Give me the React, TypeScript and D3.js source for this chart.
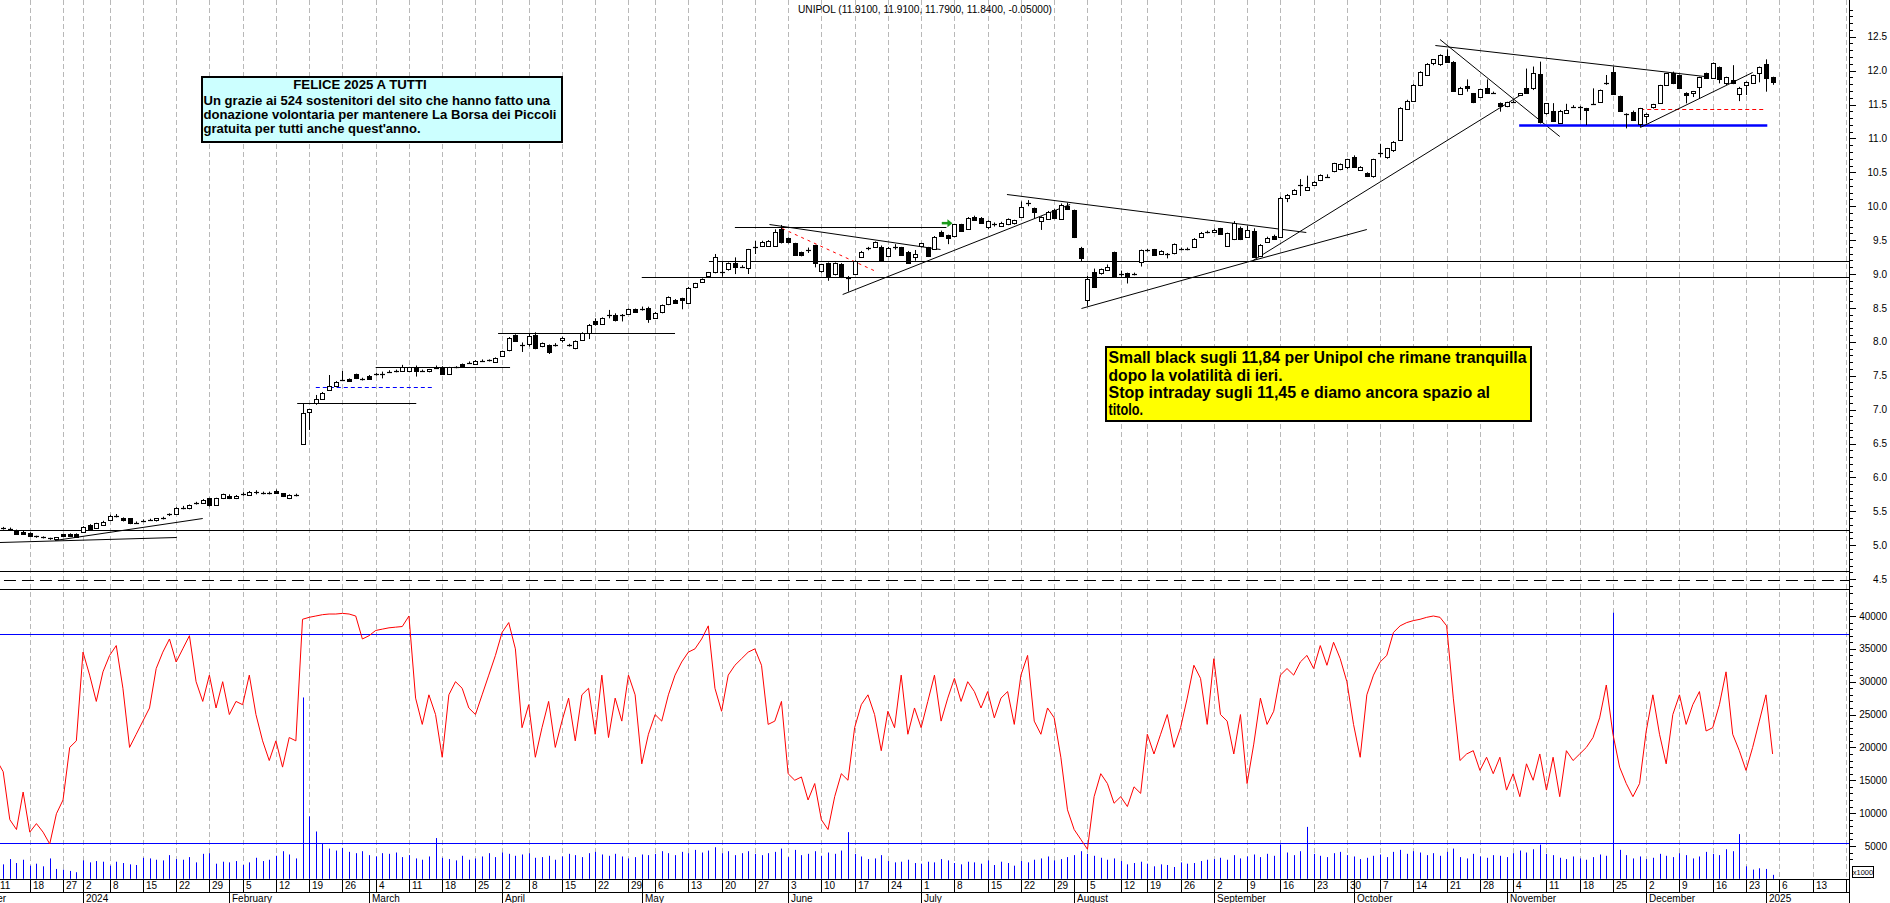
import React from 'react';
import * as d3 from 'd3';

const W = 1890;
const H = 903;
const PLOT_RIGHT = 1849;
const FONT = 'Arial, "Liberation Sans", sans-serif';

const TITLE = 'UNIPOL (11.9100, 11.9100, 11.7900, 11.8400, -0.05000)';
const HOLIDAYS = ['2023-12-25', '2023-12-26', '2024-01-01', '2024-03-29', '2024-04-01', '2024-05-01', '2024-08-15', '2024-12-24', '2024-12-25', '2024-12-26', '2024-12-31', '2025-01-01'];
const MONTH_NAMES = ['January', 'February', 'March', 'April', 'May', 'June', 'July', 'August', 'September', 'October', 'November', 'December'];
const FIRST_INDEX = -13; // 2023-12-11 ; index 0 = 2024-01-02

const opens = [
  5.26, 5.25, 5.24, 5.215, 5.2, 5.176, 5.13, 5.12, 5.1, 5.087, 5.161, 5.166, 5.166,
  5.2, 5.298, 5.249, 5.298, 5.372, 5.43, 5.397, 5.397, 5.333, 5.36,
  5.372, 5.362, 5.397, 5.456, 5.461, 5.554, 5.544, 5.618, 5.618, 5.692,
  5.594, 5.692, 5.726, 5.692, 5.75, 5.741, 5.78, 5.766, 5.766, 5.805,
  5.766, 5.692, 5.741, 6.493, 6.955, 7.093, 7.167, 7.29, 7.349, 7.437,
  7.446, 7.521, 7.452, 7.501, 7.521, 7.526, 7.56, 7.57, 7.57, 7.57,
  7.634, 7.575, 7.565, 7.614, 7.634, 7.526, 7.624, 7.673, 7.693, 7.683,
  7.723, 7.733, 7.713, 7.796, 7.879, 8.1, 7.96, 7.968, 8.1, 7.928,
  7.953, 7.96, 8.017, 7.95, 7.903, 8.037, 8.125, 8.307, 8.262, 8.395,
  8.395, 8.395, 8.405, 8.479, 8.479, 8.503, 8.356, 8.435, 8.548, 8.617,
  8.641, 8.577, 8.804, 8.877, 8.971, 9.035, 9.03, 9.069, 9.157, 9.11,
  9.084, 9.4, 9.418, 9.413, 9.418, 9.664, 9.526, 9.452, 9.32, 9.35,
  9.428, 9.035, 9.157, 8.995, 9.147, 8.94, 9.01, 9.255, 9.37, 9.403,
  9.403, 9.266, 9.4, 9.393, 9.33, 9.245, 9.403, 9.393, 9.378, 9.625,
  9.575, 9.551, 9.733, 9.674, 9.846, 9.831, 9.689, 9.733, 9.708, 9.738,
  9.747, 9.846, 10.043, 9.969, 9.787, 9.821, 9.944, 9.806, 10.008, 9.944,
  9.379, 8.617, 9.035, 9.01, 9.059, 9.32, 8.995, 9.01, 9.0, 9.182,
  9.354, 9.364, 9.295, 9.29, 9.305, 9.369, 9.369, 9.403, 9.541, 9.625,
  9.62, 9.674, 9.413, 9.511, 9.674, 9.551, 9.635, 9.271, 9.477, 9.566,
  9.551, 10.116, 10.18, 10.3, 10.249, 10.313, 10.386, 10.436, 10.51, 10.544,
  10.569, 10.731, 10.534, 10.485, 10.436, 10.78, 10.721, 10.829, 10.986, 11.444,
  11.557, 11.788, 11.935, 12.107, 12.092, 12.215, 12.131, 11.655, 11.772, 11.664,
  11.615, 11.748, 11.674, 11.527, 11.478, 11.541, 11.64, 11.748, 11.738, 11.95,
  11.369, 11.409, 11.237, 11.379, 11.468, 11.458, 11.443, 11.507, 11.542, 11.8,
  11.974, 11.625, 11.36, 11.394, 11.212, 11.335, 11.453, 11.517, 11.787, 11.959,
  11.935, 11.674, 11.674, 11.763, 11.959, 11.9, 12.048, 11.812, 11.861, 11.654,
  11.787, 11.822, 11.959, 12.1, 11.91,
];

const highs = [
  5.28, 5.27, 5.26, 5.23, 5.21, 5.19, 5.14, 5.13, 5.11, 5.12, 5.17, 5.175, 5.175,
  5.28, 5.31, 5.33, 5.36, 5.45, 5.46, 5.41, 5.4, 5.35, 5.38,
  5.39, 5.4, 5.42, 5.47, 5.56, 5.58, 5.6, 5.64, 5.68, 5.7,
  5.7, 5.76, 5.75, 5.74, 5.78, 5.8, 5.81, 5.79, 5.79, 5.82,
  5.77, 5.75, 5.76, 7.093, 7.01, 7.216, 7.26, 7.51, 7.42, 7.57,
  7.46, 7.53, 7.47, 7.51, 7.54, 7.56, 7.58, 7.59, 7.66, 7.63,
  7.65, 7.59, 7.6, 7.65, 7.64, 7.63, 7.64, 7.68, 7.71, 7.73,
  7.74, 7.74, 7.77, 7.87, 8.07, 8.11, 7.99, 8.125, 8.14, 7.99,
  7.96, 7.98, 8.075, 7.97, 8.02, 8.14, 8.262, 8.346, 8.36, 8.47,
  8.42, 8.41, 8.49, 8.49, 8.52, 8.518, 8.44, 8.55, 8.67, 8.63,
  8.65, 8.81, 8.87, 8.935, 9.03, 9.295, 9.18, 9.17, 9.245, 9.13,
  9.37, 9.487, 9.49, 9.5, 9.659, 9.723, 9.54, 9.46, 9.33, 9.39,
  9.43, 9.15, 9.17, 9.17, 9.16, 8.97, 9.2, 9.34, 9.4, 9.48,
  9.42, 9.4, 9.44, 9.4, 9.34, 9.354, 9.46, 9.4, 9.56, 9.64,
  9.58, 9.74, 9.74, 9.84, 9.86, 9.84, 9.79, 9.76, 9.77, 9.82,
  9.8, 10.07, 10.09, 9.98, 9.85, 9.93, 9.96, 10.04, 10.05, 9.95,
  9.4, 8.97, 9.08, 9.08, 9.14, 9.33, 9.05, 9.02, 9.02, 9.36,
  9.37, 9.37, 9.35, 9.31, 9.45, 9.39, 9.39, 9.53, 9.62, 9.64,
  9.67, 9.68, 9.61, 9.78, 9.7, 9.71, 9.674, 9.44, 9.55, 9.58,
  10.14, 10.18, 10.25, 10.4, 10.45, 10.37, 10.47, 10.47, 10.64, 10.63,
  10.7, 10.75, 10.59, 10.5, 10.7, 10.92, 10.86, 10.96, 11.46, 11.57,
  11.8, 11.99, 12.11, 12.17, 12.24, 12.313, 12.14, 11.76, 11.87, 11.67,
  11.73, 11.87, 11.69, 11.53, 11.54, 11.56, 11.67, 12.03, 12.06, 12.132,
  11.52, 11.52, 11.42, 11.51, 11.49, 11.48, 11.45, 11.738, 11.72, 11.935,
  12.058, 11.63, 11.37, 11.41, 11.45, 11.37, 11.51, 11.79, 11.96, 11.985,
  11.94, 11.68, 11.7, 11.91, 11.97, 12.12, 12.06, 11.91, 12.08, 11.76,
  11.84, 11.94, 12.06, 12.166, 11.91,
];

const lows = [
  5.24, 5.23, 5.22, 5.17, 5.16, 5.13, 5.11, 5.1, 5.08, 5.08, 5.13, 5.13, 5.12,
  5.19, 5.22, 5.24, 5.29, 5.36, 5.41, 5.35, 5.31, 5.32, 5.34,
  5.36, 5.35, 5.38, 5.43, 5.45, 5.53, 5.53, 5.6, 5.61, 5.57,
  5.58, 5.68, 5.68, 5.68, 5.73, 5.73, 5.75, 5.75, 5.75, 5.77,
  5.71, 5.68, 5.72, 6.49, 6.7, 7.07, 7.15, 7.28, 7.33, 7.42,
  7.41, 7.45, 7.43, 7.45, 7.5, 7.46, 7.54, 7.55, 7.56, 7.56,
  7.487, 7.56, 7.55, 7.6, 7.52, 7.51, 7.61, 7.64, 7.68, 7.67,
  7.71, 7.71, 7.7, 7.79, 7.86, 8.01, 7.85, 7.93, 7.89, 7.92,
  7.82, 7.93, 7.99, 7.93, 7.89, 8.02, 8.04, 8.238, 8.25, 8.346,
  8.3, 8.3, 8.4, 8.43, 8.46, 8.28, 8.34, 8.42, 8.54, 8.56,
  8.48, 8.57, 8.79, 8.87, 8.96, 9.01, 8.96, 9.05, 8.999, 9.09,
  9.0, 9.295, 9.4, 9.4, 9.4, 9.45, 9.45, 9.27, 9.26, 9.31,
  9.098, 9.02, 8.9, 8.98, 8.94, 8.74, 8.99, 9.24, 9.35, 9.39,
  9.2, 9.25, 9.36, 9.27, 9.16, 9.196, 9.39, 9.25, 9.37, 9.56,
  9.44, 9.54, 9.62, 9.66, 9.79, 9.75, 9.66, 9.7, 9.7, 9.72,
  9.73, 9.83, 10.0, 9.82, 9.65, 9.8, 9.81, 9.8, 9.96, 9.53,
  9.19, 8.53, 8.8, 8.99, 9.05, 8.96, 8.96, 8.86, 8.98, 9.11,
  9.33, 9.27, 9.28, 9.23, 9.29, 9.35, 9.35, 9.39, 9.53, 9.6,
  9.61, 9.58, 9.4, 9.5, 9.5, 9.54, 9.25, 9.25, 9.46, 9.52,
  9.54, 10.06, 10.17, 10.15, 10.24, 10.3, 10.37, 10.42, 10.5, 10.53,
  10.55, 10.57, 10.52, 10.43, 10.42, 10.72, 10.7, 10.8, 10.97, 11.43,
  11.54, 11.77, 11.92, 12.08, 12.07, 12.12, 11.7, 11.64, 11.69, 11.52,
  11.6, 11.67, 11.66, 11.394, 11.46, 11.52, 11.63, 11.67, 11.713, 11.22,
  11.35, 11.25, 11.23, 11.37, 11.45, 11.27, 11.197, 11.5, 11.53, 11.79,
  11.65, 11.4, 11.148, 11.27, 11.17, 11.22, 11.44, 11.51, 11.78, 11.8,
  11.73, 11.517, 11.61, 11.59, 11.88, 11.89, 11.812, 11.787, 11.8, 11.55,
  11.64, 11.81, 11.827, 11.689, 11.79,
];

const closes = [
  5.25, 5.25, 5.235, 5.176, 5.166, 5.137, 5.126, 5.116, 5.097, 5.116, 5.137, 5.137, 5.126,
  5.274, 5.235, 5.323, 5.348, 5.436, 5.431, 5.362, 5.323, 5.333, 5.362,
  5.372, 5.397, 5.397, 5.436, 5.554, 5.554, 5.594, 5.618, 5.667, 5.584,
  5.692, 5.751, 5.692, 5.726, 5.751, 5.79, 5.78, 5.766, 5.766, 5.78,
  5.716, 5.741, 5.741, 6.955, 7.004, 7.157, 7.25, 7.349, 7.412, 7.437,
  7.422, 7.457, 7.452, 7.462, 7.521, 7.526, 7.56, 7.57, 7.624, 7.624,
  7.575, 7.575, 7.594, 7.614, 7.535, 7.624, 7.624, 7.644, 7.693, 7.723,
  7.723, 7.713, 7.767, 7.864, 8.051, 8.017, 7.953, 8.091, 7.913, 7.978,
  7.854, 7.953, 8.051, 7.96, 8.012, 8.135, 8.248, 8.262, 8.346, 8.395,
  8.322, 8.395, 8.479, 8.435, 8.479, 8.346, 8.43, 8.543, 8.656, 8.567,
  8.607, 8.799, 8.863, 8.926, 9.025, 9.256, 9.025, 9.157, 9.099, 9.108,
  9.364, 9.403, 9.477, 9.487, 9.625, 9.477, 9.462, 9.28, 9.27, 9.354,
  9.157, 9.142, 8.961, 9.157, 8.951, 8.936, 9.197, 9.33, 9.378, 9.477,
  9.216, 9.389, 9.403, 9.28, 9.167, 9.29, 9.452, 9.266, 9.551, 9.566,
  9.536, 9.733, 9.625, 9.831, 9.797, 9.757, 9.782, 9.733, 9.747, 9.807,
  9.797, 9.993, 10.043, 9.905, 9.846, 9.92, 9.821, 10.018, 9.969, 9.541,
  9.231, 8.921, 8.813, 9.069, 9.099, 8.971, 8.995, 8.961, 9.0, 9.354,
  9.354, 9.281, 9.34, 9.29, 9.438, 9.369, 9.369, 9.516, 9.6, 9.625,
  9.649, 9.59, 9.6, 9.747, 9.511, 9.649, 9.256, 9.428, 9.536, 9.526,
  10.126, 10.165, 10.239, 10.313, 10.288, 10.362, 10.46, 10.436, 10.632, 10.618,
  10.69, 10.583, 10.583, 10.436, 10.692, 10.78, 10.854, 10.952, 11.454, 11.557,
  11.788, 11.984, 12.1, 12.166, 12.23, 12.131, 11.704, 11.748, 11.738, 11.532,
  11.728, 11.679, 11.674, 11.478, 11.532, 11.541, 11.664, 11.679, 11.959, 11.246,
  11.517, 11.256, 11.409, 11.419, 11.468, 11.458, 11.419, 11.507, 11.714, 11.82,
  11.655, 11.404, 11.345, 11.271, 11.443, 11.36, 11.503, 11.787, 11.959, 11.812,
  11.738, 11.64, 11.699, 11.91, 11.886, 12.117, 11.871, 11.9, 11.812, 11.748,
  11.836, 11.935, 12.048, 11.89, 11.84,
];

// volume in thousands of shares (axis shows x1000)
const volumes = [
  2600, 2200, 3000, 2400, 2900, 2000, 2300, 1900, 3100, 1500, 1400, 1200, 1000,
  2800, 2500, 2700, 2600, 2000, 2600, 2400, 2200, 2100, 3200,
  3100, 2900, 2800, 3600, 3000, 2900, 3300, 2500, 3800, 3900,
  2300, 2600, 2500, 2700, 2100, 2500, 3200, 2700, 2900, 3500,
  4200, 3700, 3100,
  27600, 9500, 7200, 5400, 4600, 4300, 4700, 4100, 3900, 4200,
  3600, 3400, 3900, 3800, 4000, 3300, 3600, 3100, 2900, 3400,
  6200, 3200, 3000, 2800, 3500, 2900, 3100, 3400, 3900, 3300,
  4000, 3800, 3500, 3700, 3900, 3200, 3300, 3500, 2900, 3400,
  3800, 3600, 3300, 3900, 4100, 3700, 3500, 3800, 3400, 3100,
  3300, 3700, 3600, 3800, 4200, 3900, 3600, 4100, 3900, 4400,
  4000, 4300, 4800, 3900, 4200, 3600, 3900,
  4200, 3800, 3600, 3900, 4100, 4600, 3300, 4400, 3600, 3800,
  4200, 3500, 4000, 3800, 4300, 7100, 3800, 3400, 3000, 3100,
  3600, 2700, 2500, 2600, 2900, 2400, 2300, 2600, 2500, 3000,
  2800, 2400, 2200, 2600, 2500, 2300, 2800, 2100, 2600, 2400,
  2000, 2700, 2500, 2900, 3100, 3400, 2800, 3000, 3300, 3600,
  4200, 3800, 3500, 3200, 2900, 3100, 2700, 2200, 2400, 2600,
  2300, 1900, 2200, 2100, 1800, 2500, 2300, 2400, 2700, 2900,
  3000, 3200, 2900, 3600, 3100, 3400, 3700, 3300, 3800, 3500,
  5200, 4000, 3600, 4200, 7900, 3800, 3500, 3300, 3900, 4100,
  3600, 3400, 3000, 3200, 3500, 3700, 3300, 4100, 4400, 3800,
  4200, 4000, 3600, 3900, 3500, 4100, 4600, 3300, 3100, 3800,
  3400, 3200, 3600, 3500, 3300, 3900, 4300, 4000, 4500, 5200,
  3800, 3600, 3200, 3000, 3400, 3100, 2900, 3300, 3700, 3500,
  40500, 4400, 3600, 3100, 3400, 3000, 3200, 3800, 3500, 3300,
  3900, 3600, 3100, 3400, 4100, 3800, 3600, 4500, 4200, 6800,
  1900, 1400, 1600, 1500, 600,
];

// red oscillator drawn on the lower panel scale
const oscillator = [
  18100, 16300, 9000, 7500, 13200, 7100, 8400, 7100, 5300, 9900, 12000, 20000, 21000,
  34500, 31000, 27000, 31500, 34000, 35500, 29000, 20000, 22000, 24000,
  26000, 32000, 34500, 36500, 33000, 35000, 37000, 30000, 27000, 31000,
  26000, 30000, 25000, 27000, 26500, 31000, 25000, 21000, 18000, 21000,
  17000, 21500, 21000, 39500, 39800, 40000, 40200, 40300, 40300, 40400,
  40300, 40000, 36500, 37000, 37800, 38000, 38200, 38300, 38400, 40000,
  27500, 23500, 28000, 25000, 18500, 28000, 30000, 29000, 26000, 25000,
  28000, 31000, 34000, 37500, 39000, 35000, 23000, 26500, 18500, 23000,
  27000, 20000, 24000, 27500, 21000, 28000, 29000, 22000, 31000, 21500,
  27500, 24000, 31000, 28000, 17500, 22000, 25000, 24000, 28000, 31000,
  33000, 34500, 35000, 36500, 38500, 29000, 25500, 31000, 32500, 33500,
  34500, 35000, 32500, 23500, 24000, 27000, 16000, 15000, 15500, 12000,
  14500, 9000, 7500, 12500, 16000, 15000, 23000, 26500, 28000, 25000,
  19500, 25500, 23000, 31000, 22000, 26000, 23000, 27000, 31000, 24000,
  27500, 30500, 27000, 30000, 28500, 26000, 28500, 24500, 27500, 28500,
  23500, 31000, 34000, 24000, 22000, 26000, 24500, 18500, 10500, 7500,
  6000, 4500, 12500, 16000, 14500, 11500, 12500, 11000, 14000, 13000,
  22000, 19000, 22000, 25000, 20000, 23000, 27500, 32500, 30500, 23500,
  33500, 25000, 24000, 19000, 25000, 14500, 20500, 27500, 23500, 25500,
  31000, 32000, 31000, 33000, 34000, 32000, 35500, 32500, 36000, 33500,
  30000, 23500, 18500, 28000, 31000, 33000, 34000, 37500, 38500, 39000,
  39300, 39500, 39800, 40000, 39800, 38500, 27500, 18000, 19000, 19500,
  16500, 18500, 16000, 18500, 13500, 16000, 12500, 17500, 15000, 19000,
  13500, 18500, 12500, 19500, 18000, 19000, 20000, 21500, 24500, 29500,
  22000, 17000, 14500, 12500, 14500, 22500, 28000, 22000, 17500, 25000,
  28000, 23500, 26500, 28500, 22500, 23000, 26500, 31500, 22000, 19500,
  16500, 20000, 24000, 28000, 19000,
];

const priceLabels = [4.5, 5.0, 5.5, 6.0, 6.5, 7.0, 7.5, 8.0, 8.5, 9.0, 9.5, 10.0, 10.5, 11.0, 11.5, 12.0, 12.5];
const volumeLabels = [5000, 10000, 15000, 20000, 25000, 30000, 35000, 40000];
const volumeLevels = [37260, 5450];

type Drawing = { i1: number; p1: number; i2: number; p2: number; color: string; width: number; dash?: string };
const drawings: Drawing[] = [
  { i1: -12.5, p1: 5.053, i2: 14.1, p2: 5.117, color: '#000', width: 1 },
  { i1: -4.2, p1: 5.07, i2: 18.0, p2: 5.40, color: '#000', width: 1 },
  { i1: -20, p1: 5.23, i2: 300, p2: 5.23, color: '#000', width: 1 },
  { i1: -20, p1: 4.62, i2: 300, p2: 4.62, color: '#000', width: 1 },
  { i1: -20, p1: 4.49, i2: 300, p2: 4.49, color: '#000', width: 1, dash: '12,6' },
  { i1: -20, p1: 4.36, i2: 300, p2: 4.36, color: '#000', width: 1 },
  { i1: 32.2, p1: 7.093, i2: 50.1, p2: 7.093, color: '#000', width: 1 },
  { i1: 35.0, p1: 7.339, i2: 52.6, p2: 7.339, color: '#0000ff', width: 1, dash: '4,3' },
  { i1: 44.0, p1: 7.634, i2: 64.2, p2: 7.634, color: '#000', width: 1 },
  { i1: 62.4, p1: 8.125, i2: 89.0, p2: 8.125, color: '#000', width: 1 },
  { i1: 84.0, p1: 8.951, i2: 300, p2: 8.951, color: '#000', width: 1 },
  { i1: 94.1, p1: 9.19, i2: 300, p2: 9.19, color: '#000', width: 1 },
  { i1: 98.0, p1: 9.698, i2: 129.8, p2: 9.698, color: '#000', width: 1 },
  { i1: 103.2, p1: 9.737, i2: 128.9, p2: 9.364, color: '#000', width: 1 },
  { i1: 105.1, p1: 9.674, i2: 118.9, p2: 9.06, color: '#ff0000', width: 1, dash: '3,4' },
  { i1: 114.2, p1: 8.705, i2: 148.4, p2: 10.03, color: '#000', width: 1 },
  { i1: 138.9, p1: 10.175, i2: 183.9, p2: 9.624, color: '#000', width: 1 },
  { i1: 150.1, p1: 8.494, i2: 175.9, p2: 9.207, color: '#000', width: 1 },
  { i1: 175.9, p1: 9.207, i2: 193.0, p2: 9.66, color: '#000', width: 1 },
  { i1: 175.9, p1: 9.207, i2: 216.0, p2: 11.64, color: '#000', width: 1 },
  { i1: 204.0, p1: 12.46, i2: 222.0, p2: 11.03, color: '#000', width: 1 },
  { i1: 203.3, p1: 12.38, i2: 243.8, p2: 11.92, color: '#000', width: 1 },
  { i1: 215.9, p1: 11.197, i2: 253.2, p2: 11.197, color: '#0000ff', width: 2.5 },
  { i1: 234.1, p1: 11.44, i2: 252.6, p2: 11.44, color: '#ff0000', width: 1, dash: '4,3' },
  { i1: 234.1, p1: 11.166, i2: 251.0, p2: 11.985, color: '#000', width: 1 },
];
const greenArrow = { i1: 129.1, i2: 130.4, p: 9.75 };

type Day = { date: Date; idx: number };
function buildCalendar(): Day[] {
  const hol = new Set(HOLIDAYS);
  const list: Date[] = [];
  let t = Date.UTC(2023, 10, 27);
  const end = Date.UTC(2025, 1, 7);
  while (t <= end) {
    const d = new Date(t);
    const wd = d.getUTCDay();
    const key = d.toISOString().slice(0, 10);
    if (wd !== 0 && wd !== 6 && !hol.has(key)) list.push(d);
    t += 86400000;
  }
  const zero = list.findIndex((d) => d.toISOString().slice(0, 10) === '2024-01-02');
  return list.map((date, k) => ({ date, idx: k - zero }));
}

const xS = d3.scaleLinear().domain([0, 250]).range([83, 83 + 250 * 6.652]);
const yP = d3.scaleLinear().domain([4.5, 12.5]).range([579.1, 36.7]);
const yV = d3.scaleLinear().domain([0, 40000]).range([878.8, 616]);

const PRICE_TOP = 0;
const PRICE_BOTTOM = 599;
const VOL_TOP = 600;
const VOL_BOTTOM = 879;
const ROW1 = 892;

export default function App() {
  const cal = buildCalendar();
  const weekTicks: Day[] = [];
  const monthTicks: Day[] = [];
  for (let k = 1; k < cal.length; k++) {
    const prev = cal[k - 1].date;
    const cur = cal[k].date;
    const next = cal[k + 1] ? cal[k + 1].date : null;
    const gapDays = (cur.getTime() - prev.getTime()) / 86400000;
    const newWeek = cur.getUTCDay() <= prev.getUTCDay() || gapDays >= 7;
    const newMonth = cur.getUTCMonth() !== prev.getUTCMonth();
    if (newMonth) monthTicks.push(cal[k]);
    if (newWeek) {
      const nextNewYear = next && next.getUTCFullYear() !== cur.getUTCFullYear();
      if (!nextNewYear) weekTicks.push(cal[k]);
    }
  }

  const px = (i: number) => Math.round(xS(i)) + 0.5;

  const candles = opens.map((o, k) => {
    const i = FIRST_INDEX + k;
    const h = highs[k];
    const l = lows[k];
    const c = closes[k];
    const x = px(i);
    const yO = yP(o);
    const yC = yP(c);
    const top = Math.min(yO, yC);
    const bot = Math.max(yO, yC);
    const up = c >= o;
    const flat = bot - top < 1.5;
    return (
      <g key={'c' + k}>
        <line x1={x} x2={x} y1={yP(h)} y2={yP(l)} stroke="#000" strokeWidth={1} />
        {flat ? (
          <line x1={x - 2.5} x2={x + 2.5} y1={Math.round(top) + 0.5} y2={Math.round(top) + 0.5} stroke="#000" strokeWidth={1.2} />
        ) : (
          <rect x={x - 2} y={Math.round(top) + 0.5} width={4} height={Math.max(1, Math.round(bot - top))} fill={up ? '#fff' : '#000'} stroke="#000" strokeWidth={1} />
        )}
      </g>
    );
  });

  const oscLine = d3
    .line<number>()
    .x((_, k) => xS(FIRST_INDEX + k))
    .y((v) => yV(v))(oscillator) as string;

  const priceMinor: number[] = [];
  for (let v = 43; v <= 129; v++) priceMinor.push(v / 10);
  const volMinor: number[] = [];
  for (let v = 3; v <= 42; v++) volMinor.push(v * 1000);

  return (
    <div style={{ position: 'absolute', left: 0, top: 0, width: W, height: H, background: '#fff' }}>
      <svg width={W} height={H} style={{ display: 'block', fontFamily: FONT }}>
        <defs>
          <clipPath id="plotClip">
            <rect x={0} y={0} width={PLOT_RIGHT} height={VOL_BOTTOM} />
          </clipPath>
          <clipPath id="priceClip">
            <rect x={0} y={PRICE_TOP} width={PLOT_RIGHT} height={PRICE_BOTTOM - PRICE_TOP} />
          </clipPath>
          <clipPath id="volClip">
            <rect x={0} y={VOL_TOP} width={PLOT_RIGHT} height={VOL_BOTTOM - VOL_TOP} />
          </clipPath>
          <clipPath id="axisClip">
            <rect x={0} y={VOL_BOTTOM} width={PLOT_RIGHT} height={H - VOL_BOTTOM} />
          </clipPath>
        </defs>
        <rect x={0} y={0} width={W} height={H} fill="#fff" />

        {/* grid */}
        <g clipPath="url(#plotClip)">
          {weekTicks.map((d) => (
            <line key={'g' + d.idx} x1={px(d.idx)} x2={px(d.idx)} y1={0} y2={VOL_BOTTOM} stroke="#b8b8b8" strokeWidth={1} strokeDasharray="5,3" />
          ))}
        </g>

        {/* title */}
        <text x={798} y={12.5} fontSize={10.5} fill="#000" textLength={254} lengthAdjust="spacingAndGlyphs">{TITLE}</text>

        {/* price drawings */}
        <g clipPath="url(#priceClip)">
          {drawings.map((dr, k) => (
            <line key={'d' + k} x1={xS(dr.i1)} y1={Math.round(yP(dr.p1)) + 0.5} x2={xS(dr.i2)} y2={Math.round(yP(dr.p2)) + 0.5} stroke={dr.color} strokeWidth={dr.width} strokeDasharray={dr.dash} />
          ))}
          {candles}
          <g>
            <line x1={xS(greenArrow.i1)} x2={xS(greenArrow.i2) - 2} y1={yP(greenArrow.p)} y2={yP(greenArrow.p)} stroke="#1a9a1a" strokeWidth={2.5} />
            <path d={`M${xS(greenArrow.i2) - 3},${yP(greenArrow.p) - 4} L${xS(greenArrow.i2) + 2},${yP(greenArrow.p)} L${xS(greenArrow.i2) - 3},${yP(greenArrow.p) + 4} Z`} fill="#1a9a1a" />
          </g>
        </g>

        {/* annotation boxes */}
        <g>
          <rect x={202} y={77} width={360} height={65} fill="#ccffff" stroke="#000" strokeWidth={2} />
          <g fontWeight="bold" fontSize={13} fill="#000">
            <text x={293.3} y={88.7} textLength={133.4} lengthAdjust="spacingAndGlyphs">FELICE 2025 A TUTTI</text>
            <text x={203.5} y={105} textLength={346.5} lengthAdjust="spacingAndGlyphs">Un grazie ai 524 sostenitori del sito che hanno fatto una</text>
            <text x={203.5} y={119.3} textLength={353} lengthAdjust="spacingAndGlyphs">donazione volontaria per mantenere La Borsa dei Piccoli</text>
            <text x={203.5} y={133.3} textLength={217} lengthAdjust="spacingAndGlyphs">gratuita per tutti anche quest'anno.</text>
          </g>
          <rect x={1106} y={347} width={425} height={74} fill="#ffff00" stroke="#000" strokeWidth={2} />
          <g fontWeight="bold" fontSize={16} fill="#000">
            <text x={1108.5} y={362.7} textLength={418} lengthAdjust="spacingAndGlyphs">Small black sugli 11,84 per Unipol che rimane tranquilla</text>
            <text x={1108.5} y={380.5} textLength={174} lengthAdjust="spacingAndGlyphs">dopo la volatilità di ieri.</text>
            <text x={1108.5} y={398.3} textLength={381.5} lengthAdjust="spacingAndGlyphs">Stop intraday sugli 11,45 e diamo ancora spazio al</text>
            <text x={1108.5} y={415} textLength={34.5} lengthAdjust="spacingAndGlyphs">titolo.</text>
          </g>
        </g>

        {/* volume panel */}
        <g clipPath="url(#volClip)">
          {volumes.map((v, k) => (
            <line key={'v' + k} x1={px(FIRST_INDEX + k)} x2={px(FIRST_INDEX + k)} y1={yV(0)} y2={yV(v)} stroke="#0000ff" strokeWidth={1} />
          ))}
          {volumeLevels.map((v) => (
            <line key={'vl' + v} x1={0} x2={PLOT_RIGHT} y1={Math.round(yV(v)) + 0.5} y2={Math.round(yV(v)) + 0.5} stroke="#0000ff" strokeWidth={1} />
          ))}
          <path d={oscLine} fill="none" stroke="#ff0000" strokeWidth={1} />
        </g>

        {/* right axis */}
        <line x1={PLOT_RIGHT + 0.5} x2={PLOT_RIGHT + 0.5} y1={0} y2={VOL_BOTTOM} stroke="#000" strokeWidth={1} />
        {priceMinor.map((p) => {
          const major = Math.abs(p * 2 - Math.round(p * 2)) < 1e-6;
          const y = Math.round(yP(p)) + 0.5;
          return <line key={'pt' + p} x1={PLOT_RIGHT} x2={PLOT_RIGHT + (major ? 7 : 4)} y1={y} y2={y} stroke="#000" strokeWidth={1} />;
        })}
        {priceLabels.map((p) => (
          <text key={'pl' + p} x={1887} y={yP(p) + 3.6} fontSize={10} textAnchor="end" fill="#000">{d3.format('.1f')(p)}</text>
        ))}
        {volMinor.map((v) => {
          const major = v % 5000 === 0;
          const y = Math.round(yV(v)) + 0.5;
          return <line key={'vt' + v} x1={PLOT_RIGHT} x2={PLOT_RIGHT + (major ? 7 : 4)} y1={y} y2={y} stroke="#000" strokeWidth={1} />;
        })}
        {volumeLabels.map((v) => (
          <text key={'vlab' + v} x={1887} y={yV(v) + 3.6} fontSize={10} textAnchor="end" fill="#000">{String(v)}</text>
        ))}
        <rect x={1852.5} y={866.5} width={21} height={11} fill="#fff" stroke="#000" strokeWidth={1} />
        <text x={1863} y={875} fontSize={7.5} textAnchor="middle" fill="#000">x1000</text>

        {/* bottom axis */}
        <line x1={0} x2={PLOT_RIGHT} y1={VOL_BOTTOM + 0.5} y2={VOL_BOTTOM + 0.5} stroke="#000" strokeWidth={1} />
        <line x1={0} x2={PLOT_RIGHT} y1={ROW1 + 0.5} y2={ROW1 + 0.5} stroke="#000" strokeWidth={1} />
        <g clipPath="url(#axisClip)">
          {[...weekTicks, ...monthTicks].map((d, k) => (
            <line key={'ds' + k} x1={px(d.idx)} x2={px(d.idx)} y1={VOL_BOTTOM} y2={ROW1} stroke="#000" strokeWidth={1} />
          ))}
          {weekTicks.map((d) => (
            <text key={'dl' + d.idx} x={px(d.idx) + 2.5} y={889} fontSize={10} fill="#000">{String(d.date.getUTCDate())}</text>
          ))}
          {monthTicks.map((d) => (
            <line key={'ms' + d.idx} x1={px(d.idx)} x2={px(d.idx)} y1={ROW1} y2={H} stroke="#000" strokeWidth={1} />
          ))}
          {monthTicks.map((d) => (
            <text key={'ml' + d.idx} x={px(d.idx) + 2.5} y={901.5} fontSize={10} fill="#000">
              {d.date.getUTCMonth() === 0 ? String(d.date.getUTCFullYear()) : MONTH_NAMES[d.date.getUTCMonth()]}
            </text>
          ))}
        </g>
        <line x1={PLOT_RIGHT + 0.5} x2={PLOT_RIGHT + 0.5} y1={VOL_BOTTOM} y2={H} stroke="#000" strokeWidth={1} />
      </svg>
    </div>
  );
}
